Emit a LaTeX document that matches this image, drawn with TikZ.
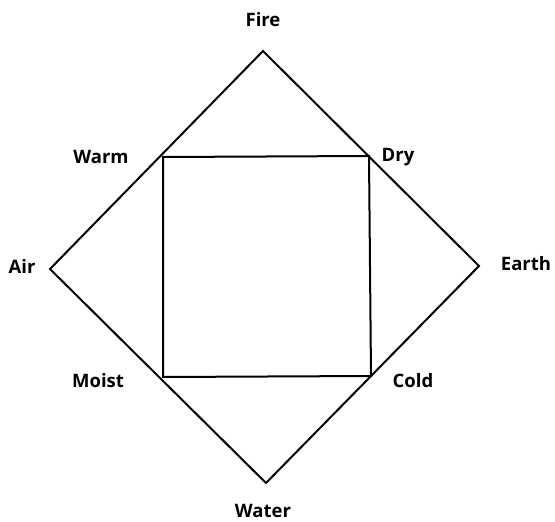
\documentclass[tikz,border=0pt]{standalone}
\usepackage{fontspec}
\setmainfont{Open Sans}
\usepackage{tikz}

\begin{document}
\begin{tikzpicture}[
  x=1pt,y=-1pt,
  every node/.style={font=\bfseries\fontsize{18.5}{22}\selectfont,inner sep=0.5pt},
  outline/.style={draw=black,line width=2pt,line join=miter},
]
\useasboundingbox (0,0) rectangle (555,522);
% outer diamond
\coordinate (fire) at (263,51);
\coordinate (air) at (50,269);
\coordinate (water) at (266,483);
\coordinate (earth) at (479,266);
% inner square
\coordinate (warm) at (163,157);
\coordinate (dry) at (369,156);
\coordinate (cold) at (371,376);
\coordinate (moist) at (163,377);

\draw[outline] (fire) -- (earth) -- (water) -- (air) -- cycle;
\draw[outline] (warm) -- (dry) -- (cold) -- (moist) -- cycle;

\node (lfire) at (263,20) {Fire};
\node (lwarm) at (101,157) {Warm};
\node (ldry) at (398,157) {Dry};
\node (lair) at (22,266) {Air};
\node (learth) at (526,264) {Earth};
\node (lmoist) at (98,381) {Moist};
\node (lcold) at (413,381) {Cold};
\node (lwater) at (263,511) {Water};
\end{tikzpicture}
\end{document}
